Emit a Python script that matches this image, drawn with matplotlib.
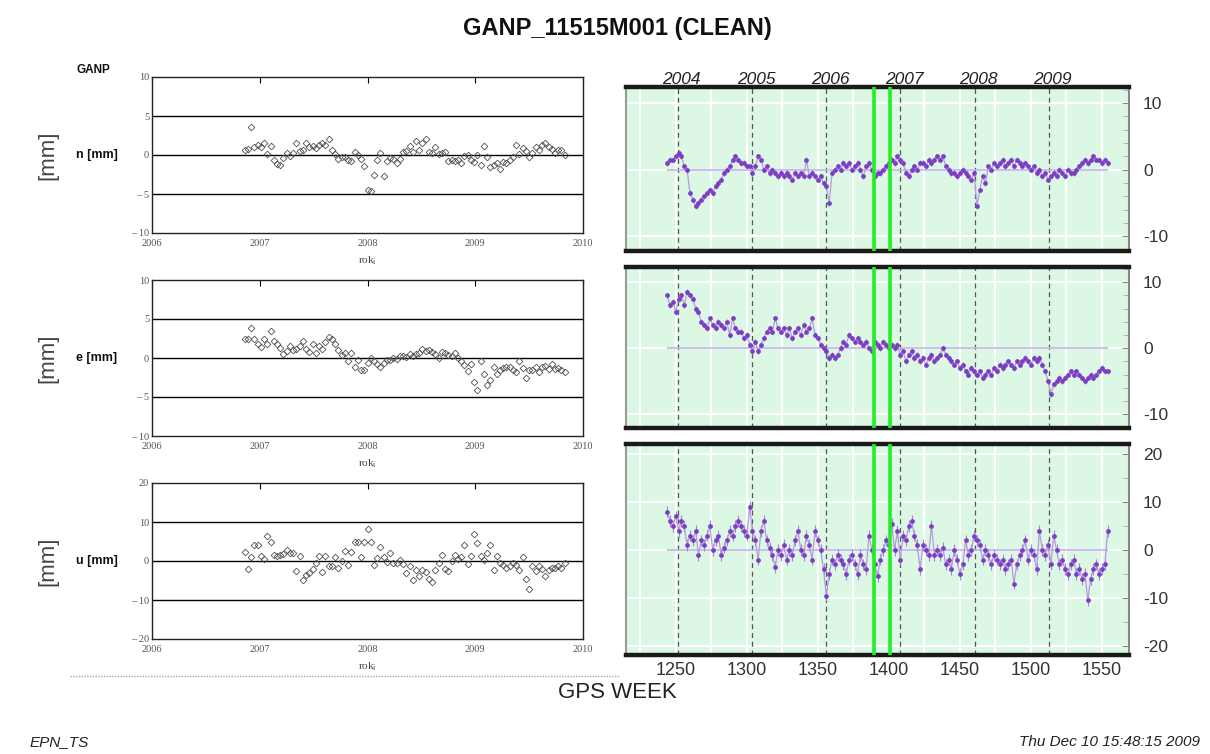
import numpy as np
import matplotlib
matplotlib.use("Agg")
import matplotlib.pyplot as plt

plt.rcParams['font.family'] = ['Liberation Sans', 'DejaVu Sans']

# ---------------- data ----------------
title = "GANP_11515M001 (CLEAN)"
station = "GANP"
components = ["n", "e", "u"]

# left panels (years)
left_start = 2006.86
left_step = 0.03
n_left = [0.7, 0.8, 3.6, 1.0, 1.3, 1.0, 1.5, 0.1, 1.2, -0.7,
          -1.2, -1.3, -0.4, 0.3, -0.1, 0.3, 1.5, 0.5, 0.6, 1.5,
          1.0, 1.2, 0.9, 1.3, 1.5, 1.3, 2.0, 0.6, 0.1, -0.5,
          -0.2, -0.3, -0.6, -0.8, 0.4, 0.0, -0.5, -1.4, -4.5, -4.6,
          -2.6, -0.6, 0.2, -2.7, -0.8, -0.4, -0.5, -1.0, -0.5, 0.4,
          0.5, 1.2, 0.4, 1.8, 0.6, 1.6, 2.1, 0.4, 0.2, 1.0,
          0.1, 0.3, 0.4, -0.8, -0.6, -0.8, -0.7, -1.0, -0.1, 0.0,
          -0.7, -0.9, 0.0, -1.3, 1.1, -0.2, -1.6, -1.3, -1.0, -1.8,
          -0.9, -1.0, -0.6, -0.3, 1.3, 0.1, 0.9, 0.5, -0.3, 0.2,
          1.0, 0.7, 1.3, 1.6, 1.0, 0.8, 0.2, 0.6, 0.6, 0.0]
e_left = [2.5, 2.4, 3.8, 2.5, 1.8, 1.4, 2.4, 1.8, 3.5, 2.2,
          1.8, 1.3, 0.5, 0.9, 1.6, 1.0, 1.2, 1.5, 2.2, 1.2,
          0.8, 1.8, 0.7, 1.6, 1.2, 2.0, 2.7, 2.4, 1.8, 1.0,
          0.4, 0.6, -0.4, 0.7, -1.1, -0.2, -1.5, -1.6, -0.6, 0.0,
          -0.4, -0.8, -1.1, -0.7, -0.2, -0.2, 0.0, -0.1, 0.2, 0.3,
          0.1, 0.5, 0.3, 0.5, 0.6, 1.1, 0.9, 1.0, 0.8, 0.5,
          0.0, 0.8, 0.6, 0.4, 0.2, 0.6, 0.0, -0.4, -0.9, -1.7,
          -0.8, -3.1, -4.1, -0.4, -2.0, -3.4, -2.8, -1.2, -2.0, -1.6,
          -1.3, -1.1, -1.1, -1.5, -1.8, -0.4, -1.3, -2.6, -1.6, -1.6,
          -1.2, -1.8, -1.2, -1.0, -1.4, -0.8, -1.4, -1.3, -1.6, -1.8]
u_left = [2.2, -2.1, 0.9, 4.0, 4.0, 1.3, 0.6, 6.3, 4.8, 1.5,
          1.2, 1.5, 1.8, 2.9, 2.0, 2.1, -2.6, 1.3, -4.8, -3.7,
          -3.0, -2.1, -0.4, 1.3, -2.8, 1.3, -1.2, -1.2, 1.0, -1.9,
          0.0, 2.5, -0.9, 2.2, 5.0, 5.0, 1.0, 5.0, 8.1, 4.9,
          -0.9, 0.8, 3.5, 1.1, -0.2, 2.0, -0.4, -0.5, 0.2, -0.8,
          -3.1, -1.4, -4.9, -2.3, -3.9, -2.2, -2.7, -4.6, -5.3, -2.4,
          -0.5, 1.6, -2.0, -2.5, 0.0, 1.5, 0.5, 0.9, 4.0, -0.8,
          1.2, 7.0, 4.5, 1.4, 0.2, 2.1, 4.2, -2.3, 1.3, -0.5,
          -0.9, -1.7, -1.3, -0.6, -1.0, -2.3, 1.0, -4.5, -7.3, -1.2,
          -2.5, -1.4, -2.0, -3.8, -2.4, -1.9, -1.7, -1.3, -1.9, -0.6]
left_years = [2006, 2007, 2008, 2009, 2010]
left_lims = [10, 10, 20]
left_ticks = [[10, 5, 0, -5, -10], [10, 5, 0, -5, -10], [20, 10, 0, -10, -20]]

# right panels (GPS week)
right_start = 1244
right_step = 2
n_right = [1.0, 1.5, 1.5, 2.0, 2.5, 2.0, 0.5, 0.0, -3.5, -4.5,
           -5.5, -5.0, -4.5, -4.0, -3.5, -3.0, -3.5, -2.5, -2.0, -1.5,
           -0.5, 0.0, 0.5, 1.5, 2.0, 1.5, 1.0, 1.0, 0.5, 0.5,
           -0.5, 0.5, 2.0, 1.5, 0.0, 0.5, -0.5, 0.0, -0.5, -1.0,
           -0.5, -1.0, -0.5, -1.0, -1.5, -0.5, -1.0, -0.5, -1.0, 1.5,
           -1.0, -0.5, -1.0, -1.5, -1.0, -2.0, -2.5, -5.0, -0.5, 0.0,
           0.5, 0.0, 1.0, 0.5, 1.0, 0.0, 0.5, 1.0, 0.0, -1.0,
           0.5, 1.0, 0.0, -1.0, -0.5, -0.5, 0.0, 0.5, 1.0, 1.5,
           1.0, 2.0, 1.5, 1.0, -0.5, -1.0, 0.0, 0.5, 0.0, 1.0,
           1.0, 0.5, 1.5, 1.0, 1.5, 2.0, 1.5, 2.0, 0.5, 0.0,
           -0.5, -0.5, -1.0, -0.5, 0.0, -0.5, -1.0, -1.5, -0.5, -5.5,
           -3.0, -1.0, -2.0, 0.5, 0.0, 1.0, 0.5, 1.0, 1.5, 0.5,
           1.0, 1.5, 0.5, 1.5, 1.0, 0.5, 1.0, 0.5, 0.0, 0.5,
           -0.5, 0.0, -1.0, -0.5, -1.5, -1.0, -0.5, -1.0, 0.0, -0.5,
           -1.0, 0.0, -0.5, -0.5, 0.0, 0.5, 1.0, 1.5, 1.0, 1.5,
           2.0, 1.5, 1.5, 1.0, 1.5, 1.0]
e_right = [8.0, 6.5, 7.0, 5.5, 7.5, 8.0, 6.5, 8.5, 8.0, 7.5,
           6.0, 5.5, 4.0, 3.5, 3.0, 4.5, 3.5, 3.0, 4.0, 3.5,
           3.0, 4.0, 2.0, 4.5, 3.0, 2.5, 2.5, 1.5, 2.0, 0.5,
           -0.5, 1.0, -0.5, 0.5, 1.5, 2.5, 3.0, 2.5, 4.5, 3.0,
           2.5, 3.0, 2.0, 3.0, 1.5, 2.5, 3.0, 2.0, 3.5, 2.5,
           3.0, 4.5, 2.0, 1.5, 0.5, 0.0, -0.5, -1.5, -1.0, -1.5,
           -1.0, 0.0, 1.0, 0.5, 2.0, 1.5, 1.0, 1.5, 1.0, 0.5,
           1.0, 0.0, -0.5, 1.0, 0.5, 0.0, 1.0, 0.5, 0.0, 0.5,
           0.0, 0.5, -1.0, -0.5, -2.0, -1.0, -0.5, -1.5, -1.0, -2.0,
           -1.5, -2.5, -1.5, -1.0, -2.0, -1.5, -1.0, 0.0, -1.0, -1.5,
           -2.0, -2.5, -2.0, -3.0, -2.5, -3.5, -4.0, -3.0, -3.5, -4.0,
           -3.5, -4.5, -4.0, -3.5, -4.0, -3.0, -3.5, -2.5, -3.0, -2.5,
           -2.0, -2.5, -3.0, -2.0, -2.5, -2.0, -1.5, -2.0, -2.5, -1.5,
           -2.0, -1.5, -2.5, -3.5, -5.0, -7.0, -5.5, -5.0, -4.5, -5.0,
           -4.5, -4.0, -3.5, -4.0, -3.5, -4.0, -4.5, -5.0, -4.5, -4.0,
           -4.5, -4.0, -3.5, -3.0, -3.5, -3.5]
u_right = [8.0, 6.0, 5.0, 7.0, 4.0, 6.0, 5.0, 1.0, 3.0, 2.0,
           4.0, -1.0, 2.0, 1.0, 3.0, 5.0, 0.0, 2.0, 3.0, -1.0,
           0.5, 2.0, 4.0, 3.0, 5.0, 6.0, 5.0, 4.0, 3.0, 9.0,
           4.0, 2.0, -2.0, 4.0, 6.0, 2.0, 0.5, -1.0, -3.5, 0.0,
           -1.0, 1.0, -2.0, 0.0, -1.0, 2.0, 4.0, 0.0, -1.0, 3.0,
           1.0, -2.0, 4.0, 2.0, 0.0, -4.0, -9.5, -5.0, -2.0, -3.0,
           -1.0, -2.0, -3.0, -5.0, -2.0, -1.0, -3.0, -5.0, -1.0, -3.0,
           -4.0, 3.0, 0.0, -3.0, -5.5, -2.0, 0.0, 2.0, 1.0, 5.5,
           0.0, 4.0, -2.0, 3.0, 2.0, 5.0, 6.0, 3.0, 1.0, -4.0,
           1.0, 0.0, -1.0, 5.0, -1.0, 0.0, -1.0, 0.5, -3.0, -2.0,
           -4.0, 0.0, -2.0, -5.0, -3.0, 2.0, -1.0, 0.0, 3.0, 2.0,
           1.0, -2.0, 0.0, -1.0, -3.0, -1.0, -2.0, -3.0, -2.0, -4.0,
           -3.0, -2.0, -7.0, -3.0, -1.0, 0.0, 2.0, -2.0, 0.0, -1.0,
           -4.0, 4.0, 0.0, -1.0, 1.0, -3.0, 3.0, 0.0, -3.0, -2.0,
           -4.0, -5.0, -3.0, -2.0, -5.0, -4.0, -6.0, -5.0, -10.5, -6.0,
           -4.0, -3.0, -5.0, -4.0, -3.0, 4.0]
right_err = [0.4, 0.4, 1.2]
right_ylims = [(-12.2, 12.4), (-12.1, 12.3), (-21.9, 22.1)]
right_ticks = [[-10, 0, 10], [-10, 0, 10], [-20, -10, 0, 10, 20]]
right_minor = [2, 2, 5]
week_ticks = [1250, 1300, 1350, 1400, 1450, 1500, 1550]
year_labels = ["2004", "2005", "2006", "2007", "2008", "2009"]
year_weeks = [1251.6, 1303.9, 1356.0, 1408.1, 1460.3, 1512.6]
green_weeks = [1389.5, 1400.5]
footer_left = "EPN_TS"
footer_right = "Thu Dec 10 15:48:15 2009"

# ---------------- layout ----------------
W, H = 1210, 754
fig = plt.figure(figsize=(W / 100, H / 100), dpi=100)


def rect(x0, y0, x1, y1):
    return [x0 / W, 1 - y1 / H, (x1 - x0) / W, (y1 - y0) / H]


def fx(x):
    return x / W


def fy(y):
    return 1 - y / H


serif = ['Liberation Serif', 'DejaVu Serif']

# ---------------- left panels ----------------
left_boxes = [(152, 77, 583, 233), (152, 280, 583, 436), (152, 483, 583, 639)]
left_data = [n_left, e_left, u_left]
for k, (box, vals) in enumerate(zip(left_boxes, left_data)):
    ax = fig.add_axes(rect(*box))
    yrs = left_start + left_step * np.arange(len(vals))
    lim = left_lims[k]
    for t in left_ticks[k][1:-1]:
        ax.axhline(t, color='black', lw=1.0, zorder=1)
    ax.plot(yrs, vals, linestyle='none', marker='D', ms=3.4, mfc='none',
            mec='#505050', mew=0.6, zorder=2)
    ax.set_xticks(left_years)
    ax.set_xticklabels([str(y) for y in left_years], fontfamily=serif,
                       fontsize=7.5, color='#555555')
    ax.set_yticks(left_ticks[k])
    ax.set_yticklabels([("\u2013 " + str(-t)) if t < 0 else str(t) for t in left_ticks[k]],
                       fontfamily=serif, fontsize=7.5, color='#555555')
    ax.set_xlim(left_years[0], left_years[-1])
    ax.set_ylim(-lim, lim)
    ax.tick_params(axis='x', direction='in', top=True, bottom=False,
                   labelbottom=True, length=4, width=0.8, pad=4)
    ax.tick_params(axis='y', length=0, pad=2)
    for sp in ax.spines.values():
        sp.set_color('#222222')
        sp.set_linewidth(1.0)
    ax.set_xlabel(r"rok$_\mathregular{i}$", fontfamily=serif, fontsize=8,
                  color='#444444', labelpad=5)
    cy = (box[1] + box[3]) / 2
    fig.text(fx(48), fy(cy), "[mm]", rotation=90, ha='center', va='center',
             fontsize=16, color='#444444')
    fig.text(fx(76), fy(cy), components[k] + " [mm]", ha='left', va='center',
             fontsize=9, fontweight='bold', color='#111111')

fig.text(fx(77), fy(70), station, ha='left', va='center', fontsize=8.5,
         fontweight='bold', color='#111111')

# faint residual line of hidden axis
fig.add_artist(plt.Line2D([fx(70), fx(620)], [fy(676), fy(676)], color='#aaaaaa',
                          lw=1.0, linestyle=(0, (1, 1))))

# ---------------- right panels ----------------
right_boxes = [(626, 87, 1129, 251), (626, 267, 1129, 428), (626, 444, 1129, 655)]
right_data = [n_right, e_right, u_right]
dot_col = '#7d3cc4'
line_col = '#b898e0'
for k, (box, vals) in enumerate(zip(right_boxes, right_data)):
    ax = fig.add_axes(rect(*box))
    ax.set_facecolor('#dcf8e5')
    wk = right_start + right_step * np.arange(len(vals))
    # white grid
    for g in range(1225, 1570, 25):
        ax.axvline(g, color='white', lw=1.5, zorder=0.5)
    for t in right_ticks[k]:
        ax.axhline(t, color='white', lw=1.5, zorder=0.5)
    # year dashed lines
    for w in year_weeks:
        ax.axvline(w, color='#555555', lw=0.9, linestyle=(0, (4, 3)), zorder=1)
    ax.hlines(0, wk[0], wk[-1], color='#c6b2ea', lw=1.2, zorder=1.5)
    ax.errorbar(wk, vals, yerr=right_err[k], fmt='-', color=line_col, lw=0.9,
                elinewidth=0.8, ecolor='#a882dc', capsize=0, zorder=2)
    ax.plot(wk, vals, linestyle='none', marker='o', ms=2.4, color=dot_col,
            zorder=3)
    for g in green_weeks:
        ax.axvline(g, color='#22ee22', lw=2.6, zorder=4)
    ax.yaxis.tick_right()
    ax.set_yticks(right_ticks[k])
    ax.set_yticklabels([str(t) for t in right_ticks[k]], fontsize=12.5,
                       color='#333333')
    ax.set_yticks(np.arange(-20, 21, right_minor[k]), minor=True)
    ax.tick_params(axis='y', which='major', direction='in', length=5,
                   color='#888888', pad=10)
    ax.tick_params(axis='y', which='minor', direction='in', length=4,
                   color='#aaaaaa')
    ax.set_xticks(week_ticks)
    if k == 2:
        ax.set_xticklabels([str(w) for w in week_ticks], fontsize=13,
                           color='#333333')
        ax.tick_params(axis='x', length=0, pad=5)
    else:
        ax.tick_params(axis='x', length=0, labelbottom=False)
    ax.set_xlim(1215, 1569)
    ax.set_ylim(*right_ylims[k])
    ax.spines['top'].set_linewidth(3.2)
    ax.spines['bottom'].set_linewidth(3.2)
    ax.spines['top'].set_color('#1a1a1a')
    ax.spines['bottom'].set_color('#1a1a1a')
    ax.spines['left'].set_color('#999999')
    ax.spines['right'].set_color('#888888')
    ax.spines['left'].set_linewidth(1.5)
    ax.spines['right'].set_linewidth(1.5)
    if k == 0:
        for w, lab in zip(year_weeks, year_labels):
            ax.text(w + 2.5, 1.0, lab, transform=ax.get_xaxis_transform(),
                    ha='center', va='bottom', fontsize=12.5, style='italic',
                    color='#222222')

# ---------------- titles / footer ----------------
fig.text(fx(617), fy(28), title, ha='center', va='center', fontsize=17,
         fontweight='bold', color='#111111')
fig.text(fx(617), fy(692), "GPS WEEK", ha='center', va='center', fontsize=16,
         color='#222222')
fig.text(fx(30), fy(742), footer_left, ha='left', va='center', fontsize=11,
         style='italic', color='#222222')
fig.text(fx(1200), fy(742), footer_right, ha='right', va='center', fontsize=11,
         style='italic', color='#222222')

fig.savefig("out.png", dpi=100)
